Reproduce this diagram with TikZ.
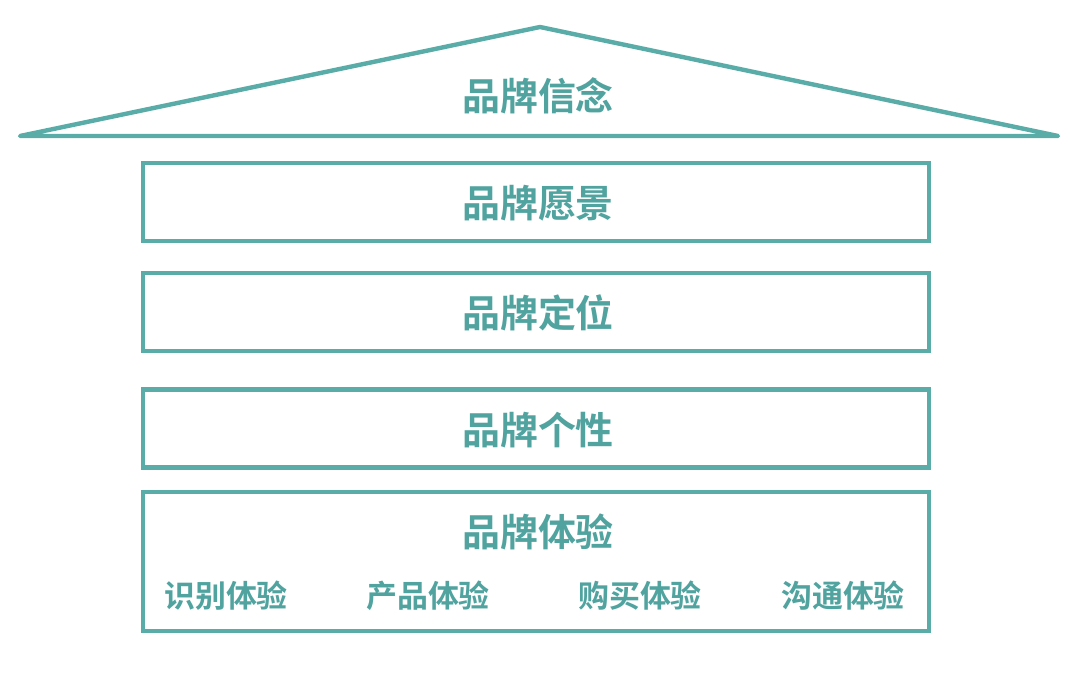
\documentclass[tikz,border=0pt]{standalone}
\usepackage{fontspec}
\newfontfamily\cjk{Noto Sans CJK SC Bold}
\usetikzlibrary{positioning}

\definecolor{teal1}{RGB}{90,172,168}
\definecolor{teal2}{RGB}{80,163,159}

\begin{document}
\begin{tikzpicture}[
    x=0.025cm, y=-0.025cm,
    layer/.style={draw=teal1, line width=0.11cm, minimum width=19.65cm, minimum height=1.95cm, inner sep=0pt},
    title/.style={text=teal2, font=\cjk\fontsize{27}{27}\selectfont, inner sep=0pt},
    sublabel/.style={text=teal2, font=\cjk\fontsize{22}{22}\selectfont, inner sep=0pt},
    roofline/.style={draw=teal1, line width=0.11cm, line join=round}
]
    \useasboundingbox (0,0) rectangle (1080,676);

    % roof
    \coordinate (apex) at (540,27);
    \coordinate (eaveL) at (20,136);
    \coordinate (eaveR) at (1058,136);
    \draw[roofline] (eaveL) -- (apex) -- (eaveR) -- cycle;
    \node[title] (belief) at (538,96) {品牌信念};

    % layers
    \node[layer] (vision) at (536,202) {};
    \node[title] (visiont) at (538,203) {品牌愿景};
    \node[layer] (position) at (536,312) {};
    \node[title] (positiont) at (538,313) {品牌定位};
    \node[layer] (person) at (536,428.5) {};
    \node[title] (persont) at (538,430) {品牌个性};
    \node[layer, minimum height=3.475cm] (exper) at (536,561.5) {};
    \node[title] (expert) at (538,532) {品牌体验};

    \node[sublabel] (ident) at (226,596) {识别体验};
    \node[sublabel] (prod) at (428,596) {产品体验};
    \node[sublabel] (buy) at (640,596) {购买体验};
    \node[sublabel] (comm) at (843,596) {沟通体验};
\end{tikzpicture}
\end{document}
